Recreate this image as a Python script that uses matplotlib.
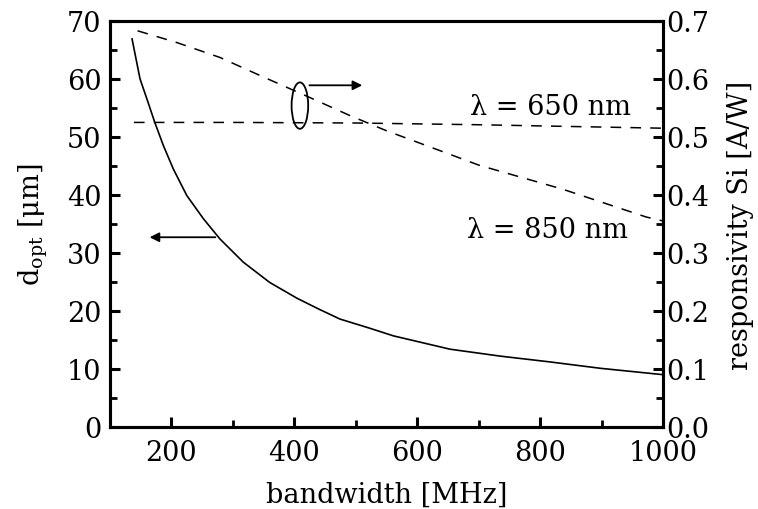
import matplotlib
matplotlib.use("Agg")
import matplotlib.pyplot as plt
from matplotlib.patches import Ellipse
from matplotlib.ticker import MultipleLocator, FormatStrFormatter

plt.rcParams['font.family'] = ['DejaVu Serif']
plt.rcParams['mathtext.fontset'] = 'dejavuserif'

# optimal thickness d_opt [um] vs bandwidth [MHz]
bw_d = [136, 149, 160, 173, 187, 203, 225, 252, 279, 317, 360, 404, 440, 474,
        520, 561, 653, 735, 816, 898, 1000]
d_opt = [66.9, 60.0, 56.6, 52.5, 48.5, 44.5, 39.9, 35.9, 32.4, 28.4, 24.9,
         22.2, 20.3, 18.6, 17.1, 15.7, 13.4, 12.2, 11.2, 10.1, 9.0]

# responsivity at 650 nm [A/W]
bw_650 = [139, 300, 500, 700, 850, 1000]
resp_650 = [0.525, 0.525, 0.524, 0.521, 0.518, 0.515]

# responsivity at 850 nm [A/W]
bw_850 = [145, 208, 279, 344, 425, 490, 549, 701, 836, 972, 1000]
resp_850 = [0.683, 0.663, 0.637, 0.606, 0.568, 0.537, 0.511, 0.451, 0.410, 0.362, 0.355]

fig = plt.figure(figsize=(7.58, 5.10), dpi=100)
ax = fig.add_axes([0.145, 0.161, 0.730, 0.796])
ax2 = ax.twinx()

ax.plot(bw_d, d_opt, color='black', lw=1.2)
ax2.plot(bw_650, resp_650, color='black', lw=1.1, dashes=(7, 6))
ax2.plot(bw_850, resp_850, color='black', lw=1.1, dashes=(7, 6))

ax.set_xlim(100, 1000)
ax.set_ylim(0, 70)
ax2.set_ylim(0, 0.7)

ax.xaxis.set_major_locator(MultipleLocator(200))
ax.xaxis.set_minor_locator(MultipleLocator(100))
ax.yaxis.set_major_locator(MultipleLocator(10))
ax.yaxis.set_minor_locator(MultipleLocator(5))
ax2.yaxis.set_major_locator(MultipleLocator(0.1))
ax2.yaxis.set_minor_locator(MultipleLocator(0.05))
ax2.yaxis.set_major_formatter(FormatStrFormatter('%.1f'))

fs = 19.5
for a in (ax, ax2):
    for s in a.spines.values():
        s.set_linewidth(2.2)
    a.tick_params(which='major', direction='in', length=7, width=2.2, labelsize=fs)
    a.tick_params(which='minor', direction='in', length=5, width=2.0)
ax.tick_params(axis='x', which='both', top=False, pad=9)
ax.tick_params(axis='y', which='both', right=False, pad=6)
ax2.tick_params(axis='y', which='both', pad=2)

ax.set_xlabel('bandwidth [MHz]', fontsize=fs, labelpad=10)
ax.set_ylabel(r'd$_\mathrm{opt}$ [μm]', fontsize=fs, labelpad=12)
ax2.set_ylabel('responsivity Si [A/W]', fontsize=fs, labelpad=13)

# annotations
ax.add_patch(Ellipse((409, 55.4), 27, 8, fill=False, lw=1.3, color='black'))
ax.annotate('', xy=(515, 58.9), xytext=(420, 58.9),
            arrowprops=dict(arrowstyle='-|>', color='black', lw=1.3, mutation_scale=14))
ax.annotate('', xy=(160, 32.7), xytext=(276, 32.7),
            arrowprops=dict(arrowstyle='-|>', color='black', lw=1.3, mutation_scale=14))
ax.text(686, 55.2, 'λ = 650 nm', fontsize=fs, va='center', ha='left')
ax.text(681, 34.1, 'λ = 850 nm', fontsize=fs, va='center', ha='left')

fig.savefig('out.png', dpi=100)
